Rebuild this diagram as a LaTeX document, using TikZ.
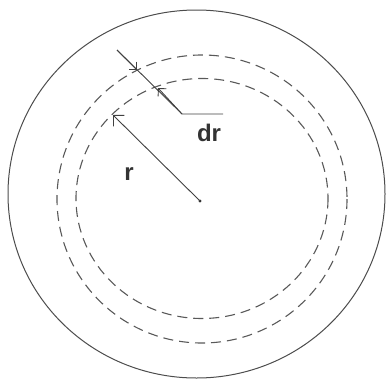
\documentclass[tikz,border=0pt]{standalone}
\usepackage{fontspec}
\newfontfamily\lblfont{Liberation Sans}
\usetikzlibrary{arrows.meta}

\begin{document}
\begin{tikzpicture}[x=1pt,y=-1pt,
  rim/.style={line width=1pt,black!70},
  shell/.style={line width=1.1pt,black!65,dash pattern=on 10pt off 6pt},
  dim/.style={line width=0.9pt,black!75},
  barb/.style={-{Straight Barb[angle=90:11pt,line width=0.9pt]}},
  smallbarb/.style={-{Straight Barb[angle=90:8pt,line width=0.9pt]}},
  lbl/.style={font=\lblfont\fontsize{24}{26}\selectfont\bfseries,text=black!80,inner sep=0pt}]
\useasboundingbox (0,0) rectangle (390,380);
% body and the thin shell
\draw[rim] (196.5,194) ellipse [x radius=188.5,y radius=184];
\draw[shell] (202,199) ellipse [x radius=145,y radius=144];
\draw[shell] (202,198.5) ellipse [x radius=126,y radius=120];
% points
\coordinate (O) at (200,201);
\coordinate (rtip) at (113,115);
\coordinate (drstart) at (117,50);
\coordinate (drout) at (137,70);
\coordinate (drin) at (158,88);
\coordinate (drknee) at (182,114);
\coordinate (drend) at (223,114);
% radius
\fill[black!80] (O) circle [radius=1.7];
\draw[dim,barb] (O) -- (rtip);
% thickness dr
\draw[dim] (drstart) -- (drknee) -- (drend);
\draw[dim,smallbarb] (drstart) -- (drout);
\draw[dim,smallbarb] (drknee) -- (drin);
% labels
\node[lbl] (rlbl) at (129,174) {r};
\node[lbl] (drlbl) at (209,133) {dr};
\end{tikzpicture}
\end{document}
